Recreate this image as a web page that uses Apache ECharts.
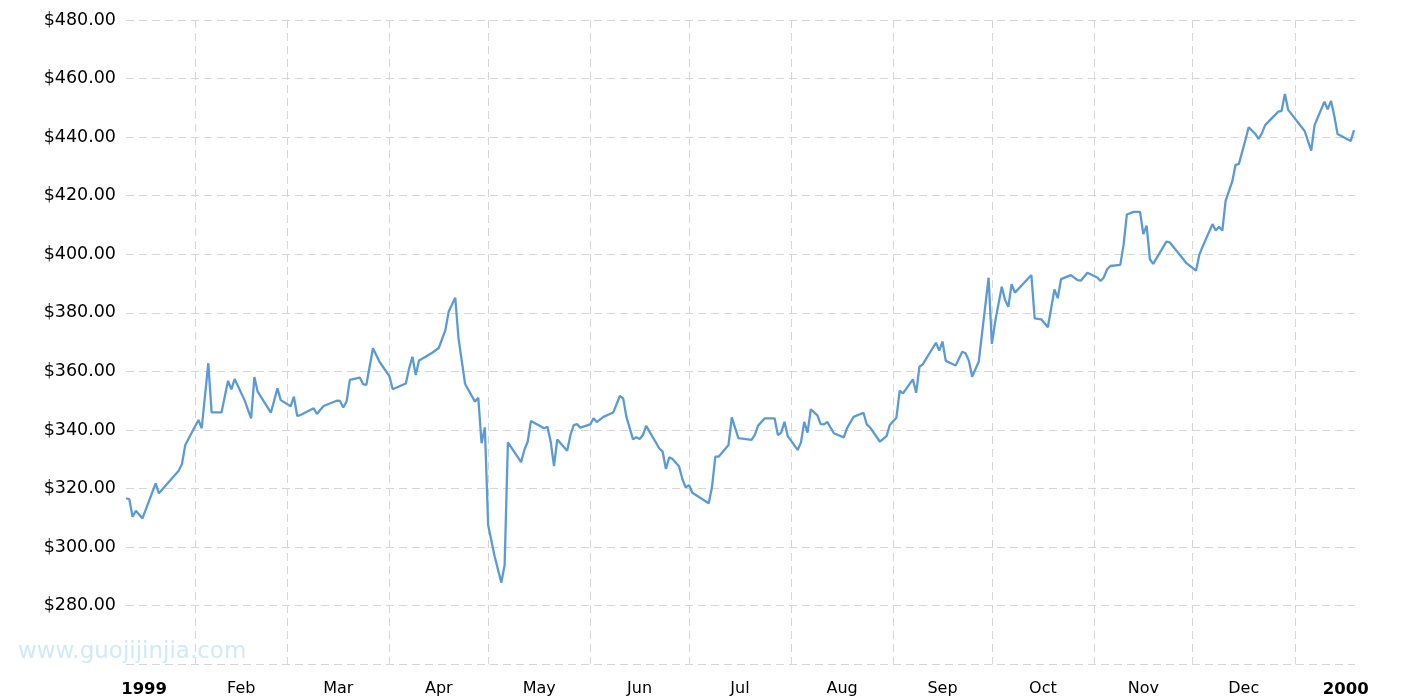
<!DOCTYPE html>
<html>
<head>
<meta charset="utf-8">
<script src="https://cdn.jsdelivr.net/npm/echarts@6/dist/echarts.min.js"></script>
<style>
html,body{margin:0;padding:0;background:#fff;}
#chart{width:1415px;height:700px;}
</style>
</head>
<body>
<div id="chart"></div>
<script>
// ---- data ----
const dates = [
'1999-01-11','1999-01-12','1999-01-13','1999-01-14','1999-01-16','1999-01-20','1999-01-21','1999-01-27','1999-01-28','1999-01-29',
'1999-02-02','1999-02-03','1999-02-05','1999-02-06','1999-02-09','1999-02-11','1999-02-12','1999-02-13','1999-02-16','1999-02-18',
'1999-02-19','1999-02-20','1999-02-24','1999-02-26','1999-02-27','1999-03-02','1999-03-03','1999-03-04','1999-03-05','1999-03-09',
'1999-03-10','1999-03-12','1999-03-16','1999-03-17','1999-03-18','1999-03-19','1999-03-20','1999-03-23','1999-03-24','1999-03-25',
'1999-03-26','1999-03-27','1999-03-29','1999-04-01','1999-04-02','1999-04-06','1999-04-07','1999-04-08','1999-04-09','1999-04-10',
'1999-04-12','1999-04-14','1999-04-16','1999-04-18','1999-04-19','1999-04-21','1999-04-22','1999-04-24','1999-04-27','1999-04-28',
'1999-04-29','1999-04-30','1999-05-01','1999-05-03','1999-05-05','1999-05-06','1999-05-07','1999-05-11','1999-05-12','1999-05-13',
'1999-05-14','1999-05-18','1999-05-19','1999-05-20','1999-05-21','1999-05-22','1999-05-25','1999-05-26','1999-05-27','1999-05-28',
'1999-05-29','1999-06-01','1999-06-02','1999-06-03','1999-06-05','1999-06-08','1999-06-10','1999-06-11','1999-06-12','1999-06-14',
'1999-06-15','1999-06-16','1999-06-17','1999-06-18','1999-06-22','1999-06-23','1999-06-24','1999-06-25','1999-06-26','1999-06-28',
'1999-06-29','1999-06-30','1999-07-01','1999-07-02','1999-07-07','1999-07-08','1999-07-09','1999-07-10','1999-07-13','1999-07-14',
'1999-07-16','1999-07-20','1999-07-21','1999-07-22','1999-07-24','1999-07-27','1999-07-28','1999-07-29','1999-07-30','1999-07-31',
'1999-08-03','1999-08-04','1999-08-05','1999-08-06','1999-08-07','1999-08-09','1999-08-10','1999-08-11','1999-08-12','1999-08-14',
'1999-08-17','1999-08-18','1999-08-20','1999-08-23','1999-08-24','1999-08-25','1999-08-28','1999-08-30','1999-08-31','1999-09-02',
'1999-09-03','1999-09-04','1999-09-07','1999-09-08','1999-09-09','1999-09-10','1999-09-14','1999-09-15','1999-09-16','1999-09-17',
'1999-09-20','1999-09-22','1999-09-23','1999-09-24','1999-09-25','1999-09-27','1999-09-30','1999-10-01','1999-10-02','1999-10-04',
'1999-10-05','1999-10-06','1999-10-07','1999-10-08','1999-10-13','1999-10-14','1999-10-16','1999-10-18','1999-10-20','1999-10-21',
'1999-10-22','1999-10-25','1999-10-27','1999-10-28','1999-10-30','1999-11-02','1999-11-03','1999-11-04','1999-11-05','1999-11-06',
'1999-11-09','1999-11-10','1999-11-11','1999-11-13','1999-11-15','1999-11-16','1999-11-17','1999-11-18','1999-11-19','1999-11-23',
'1999-11-24','1999-11-29','1999-12-02','1999-12-03','1999-12-04','1999-12-07','1999-12-08','1999-12-09','1999-12-10','1999-12-11',
'1999-12-13','1999-12-14','1999-12-15','1999-12-17','1999-12-18','1999-12-20','1999-12-21','1999-12-22','1999-12-23','1999-12-27',
'1999-12-28','1999-12-29','1999-12-30','2000-01-04','2000-01-06','2000-01-07','2000-01-10','2000-01-11','2000-01-12','2000-01-13',
'2000-01-14','2000-01-18','2000-01-19'
];
const prices = [
316.7,316.4,310.4,312.4,309.8,321.8,318.4,326.1,328.4,334.9,
343.4,340.6,362.8,346.0,346.0,356.8,353.9,357.4,350.2,344.0,
358.1,353.1,345.9,354.2,350.2,348.1,351.4,344.8,345.1,347.4,
345.5,348.2,350.0,349.9,347.7,349.7,357.1,357.9,355.7,355.4,
361.6,367.9,363.3,358.4,353.9,355.9,361.1,365.0,358.8,363.7,
365.0,366.4,368.0,374.1,380.4,385.2,371.3,355.7,349.7,351.0,
335.5,340.9,307.6,296.7,287.9,293.9,335.8,329.0,333.2,336.0,
343.1,340.6,341.1,336.0,327.7,336.8,332.9,338.3,341.7,342.0,
340.8,341.9,344.0,342.7,344.5,346.0,351.6,350.8,344.5,336.8,
337.5,336.9,338.3,341.4,333.7,332.6,326.7,330.7,330.1,327.5,
323.2,320.4,321.2,318.6,315.0,320.6,330.9,330.9,334.9,344.3,
337.2,336.6,338.3,341.5,344.0,344.0,338.3,339.1,342.8,337.9,
333.2,335.7,342.8,339.1,347.1,345.0,342.0,341.9,342.8,338.9,
337.5,340.6,344.5,345.9,341.9,340.9,336.0,337.9,341.7,344.2,
353.4,352.5,357.3,352.7,361.6,362.4,369.8,367.1,370.2,363.6,
362.0,366.7,366.2,363.7,358.2,363.3,392.0,369.4,377.0,388.9,
384.4,382.1,389.8,386.9,392.9,378.1,377.8,375.1,388.0,385.0,
391.5,392.9,391.2,391.0,393.7,392.1,390.9,392.1,394.9,396.0,
396.4,403.2,413.6,414.5,414.5,406.9,409.8,398.3,396.7,404.3,
404.1,397.1,394.4,399.8,402.6,410.3,408.1,409.4,408.1,418.3,
424.8,430.5,430.8,439.0,443.4,441.1,439.4,441.3,444.1,448.7,
449.0,454.7,449.3,442.1,435.4,444.1,452.1,449.5,452.4,447.2,
441.1,438.7,442.4
];
// month boundaries (grid lines) and the period labels centred between them
const monthStarts = ['1999-01-01','1999-02-01','1999-03-01','1999-04-01','1999-05-01','1999-06-01','1999-07-01',
  '1999-08-01','1999-09-01','1999-10-01','1999-11-01','1999-12-01','2000-01-01','2000-02-01'];
const monthLabels = ['1999','Feb','Mar','Apr','May','Jun','Jul','Aug','Sep','Oct','Nov','Dec','2000'];
const yearLabels = ['1999','2000'];
const yTicks = [260,280,300,320,340,360,380,400,420,440,460,480];

// ---- build ----
function ts(s){
  const p = s.split(' ');
  const d = p[0].split('-').map(Number);
  let h = 0;
  if (p[1]) h = Number(p[1].split(':')[0]);
  return Date.UTC(d[0], d[1]-1, d[2], h);
}
const seriesData = dates.map((d,i)=>[ts(d), prices[i]]);
const xMin = ts('1999-01-11');
const xMax = ts('2000-01-19 07');
const gridTicks = monthStarts.slice(1, 13).map(ts);
const labelPos = monthLabels.map((_,i)=> (ts(monthStarts[i]) + ts(monthStarts[i+1]))/2);

const chart = echarts.init(document.getElementById('chart'), null, {renderer:'canvas'});
const font = '"DejaVu Sans", Verdana, sans-serif';
chart.setOption({
  animation:false,
  backgroundColor:'#fff',
  grid:{left:126, right:60, top:20, bottom:35.7, containLabel:false},
  graphic:[{
    type:'text', left:18, top:641, silent:true,
    style:{text:'www.guojijinjia.com', font:'23px ' + font, fill:'#d0e9fb'}
  }],
  xAxis:{
    type:'value', min:xMin, max:xMax,
    axisLine:{show:false},
    axisTick:{show:false, customValues:gridTicks},
    splitLine:{show:true, lineStyle:{color:'#d6d6d6', type:[8,5], width:1}},
    axisLabel:{
      customValues:labelPos,
      margin:17,
      color:'#000', fontSize:16, fontFamily:font,
      formatter:function(v){
        let idx = 0, best = Infinity;
        labelPos.forEach((p,i)=>{ const d=Math.abs(p-v); if(d<best){best=d; idx=i;} });
        const t = monthLabels[idx];
        return yearLabels.indexOf(t) >= 0 ? '{b|' + t + '}' : t;
      },
      rich:{b:{fontWeight:'bold', fontSize:16.5, fontFamily:font, color:'#000'}}
    }
  },
  yAxis:{
    type:'value', min:yTicks[0], max:yTicks[yTicks.length-1], interval:20,
    axisLine:{show:false}, axisTick:{show:false},
    splitLine:{show:true, lineStyle:{color:'#d6d6d6', type:[8,5], width:1}},
    axisLabel:{
      showMinLabel:false, margin:10,
      color:'#000', fontSize:17.5, fontFamily:font,
      formatter:function(v){ return '$' + v.toFixed(2); }
    }
  },
  series:[{
    type:'line', data:seriesData, showSymbol:false, symbol:'none',
    lineStyle:{color:'#5b9bd5', width:2.3},
    itemStyle:{color:'#5b9bd5'}
  }]
});
</script>
</body>
</html>
